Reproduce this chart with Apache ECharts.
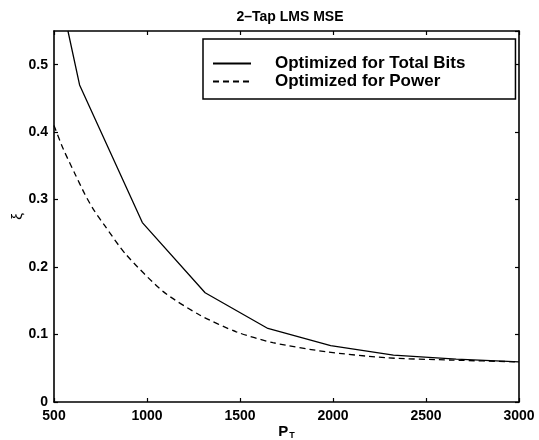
<!DOCTYPE html>
<html>
<head>
  <meta charset="UTF-8"/>
  <title>2-Tap LMS MSE</title>
  <script src="https://cdn.jsdelivr.net/npm/echarts@6/dist/echarts.min.js"></script>
  <style>
    html, body { margin: 0; padding: 0; background: #fff; }
    #main { width: 539px; height: 440px; }
  </style>
</head>
<body>
<div id="main"></div>
<script type="text/javascript">
    // values
    const titleText = '2\u2013Tap LMS MSE';
    const seriesNames = ['Optimized for Total Bits', 'Optimized for Power'];
    // solid line (enters the plot at the top edge)
    const bitsX = [575, 637.5, 975, 1312.5, 1650, 1987.5, 2325, 2662.5, 3000];
    const bitsY = [0.55, 0.47, 0.266, 0.162, 0.109, 0.0835, 0.0695, 0.0635, 0.0595];
    // dashed line
    const powerX = [500, 550, 613, 666, 711, 774, 886, 1086, 1283, 1480, 1677, 1963, 2285, 2642, 3000];
    const powerY = [0.41, 0.375, 0.338, 0.308, 0.286, 0.261, 0.219, 0.164, 0.129, 0.104, 0.088, 0.0745, 0.0656, 0.0621, 0.0595];
    const xTicks = [500, 1000, 1500, 2000, 2500, 3000];
    const yTicks = [0, 0.1, 0.2, 0.3, 0.4, 0.5];

    const font = '"Liberation Sans", Arial, Helvetica, sans-serif';
    const pairs = (xs, ys) => xs.map((x, i) => [x, ys[i]]);

    let myChart = echarts.init(document.getElementById('main'), null, {renderer: 'canvas'});

    // shared frame look (MATLAB box with inward ticks)
    const frameLine = {show: true, onZero: false, lineStyle: {color: '#000', width: 1.6}};
    const tickIn = {show: true, inside: true, length: 4, lineStyle: {color: '#000', width: 1.2}};

    let option = {
        backgroundColor: '#fff',
        animation: false,
        title: {
            text: titleText,
            left: 285, top: 5,
            textAlign: 'center',
            textStyle: {fontFamily: font, fontWeight: 'bold', fontSize: 14, color: '#000'}
        },
        grid: {left: 54, right: 20, top: 31, bottom: 38, outerBoundsMode: 'none'},
        //图例
        legend: {
            data: seriesNames,
            orient: 'vertical',
            left: 203, top: 39,
            padding: [16, 50, 9, 9],
            itemGap: 1,
            itemWidth: 38,
            itemHeight: 18,
            backgroundColor: '#fff',
            borderColor: '#000',
            borderWidth: 1.5,
            borderRadius: 0,
            itemStyle: {opacity: 0},
            formatter: '{t|{name}}',
            textStyle: {
                rich: {
                    t: {fontFamily: font, fontWeight: 'bold', fontSize: 17, lineHeight: 18, color: '#000', padding: [0, 0, 0, 19]}
                }
            }
        },
        xAxis: [{
            type: 'value',
            min: xTicks[0], max: xTicks[xTicks.length - 1], interval: 500,
            name: '{p|P}{s|T}',
            nameLocation: 'middle',
            nameMoveOverlap: false,
            nameGap: 21,
            nameTextStyle: {
                rich: {
                    p: {fontFamily: font, fontWeight: 'bold', fontSize: 15, color: '#000'},
                    s: {fontFamily: font, fontWeight: 'bold', fontSize: 9, color: '#000', verticalAlign: 'bottom', padding: [8, 0, 0, 1]}
                }
            },
            axisLine: frameLine,
            axisTick: tickIn,
            splitLine: {show: false},
            axisLabel: {
                fontFamily: font, fontWeight: 'bold', fontSize: 14, color: '#000', margin: 7,
                formatter: v => String(v)
            }
        }, {
            type: 'value', position: 'top',
            min: xTicks[0], max: xTicks[xTicks.length - 1], interval: 500,
            axisLine: frameLine, axisTick: tickIn,
            splitLine: {show: false}, axisLabel: {show: false}
        }],
        yAxis: [{
            type: 'value',
            min: yTicks[0], max: 0.55, interval: 0.1,
            name: '\u03be',
            nameLocation: 'middle',
            nameMoveOverlap: false,
            nameRotate: 90,
            nameGap: 29,
            nameTextStyle: {fontFamily: font, fontSize: 15, color: '#000'},
            axisLine: frameLine,
            axisTick: tickIn,
            splitLine: {show: false},
            axisLabel: {
                fontFamily: font, fontWeight: 'bold', fontSize: 14, color: '#000', margin: 6,
                showMaxLabel: false,
                formatter: v => (yTicks.indexOf(+v.toFixed(2)) >= 0 ? String(+v.toFixed(2)) : '')
            }
        }, {
            type: 'value', position: 'right',
            min: yTicks[0], max: 0.55, interval: 0.1,
            axisLine: frameLine, axisTick: tickIn,
            splitLine: {show: false}, axisLabel: {show: false}
        }],
        series: [
            {
                name: seriesNames[0],
                type: 'line',
                data: pairs(bitsX, bitsY),
                symbol: 'none',
                clip: true,
                lineStyle: {color: '#000', width: 1.3, type: 'solid'},
                itemStyle: {color: '#000'}
            },
            {
                name: seriesNames[1],
                type: 'line',
                data: pairs(powerX, powerY),
                symbol: 'none',
                smooth: 0.25,
                clip: true,
                lineStyle: {color: '#000', width: 1.3, type: [6, 4]},
                itemStyle: {color: '#000'}
            }
        ]
    };
    myChart.setOption(option);
</script>
</body>
</html>
